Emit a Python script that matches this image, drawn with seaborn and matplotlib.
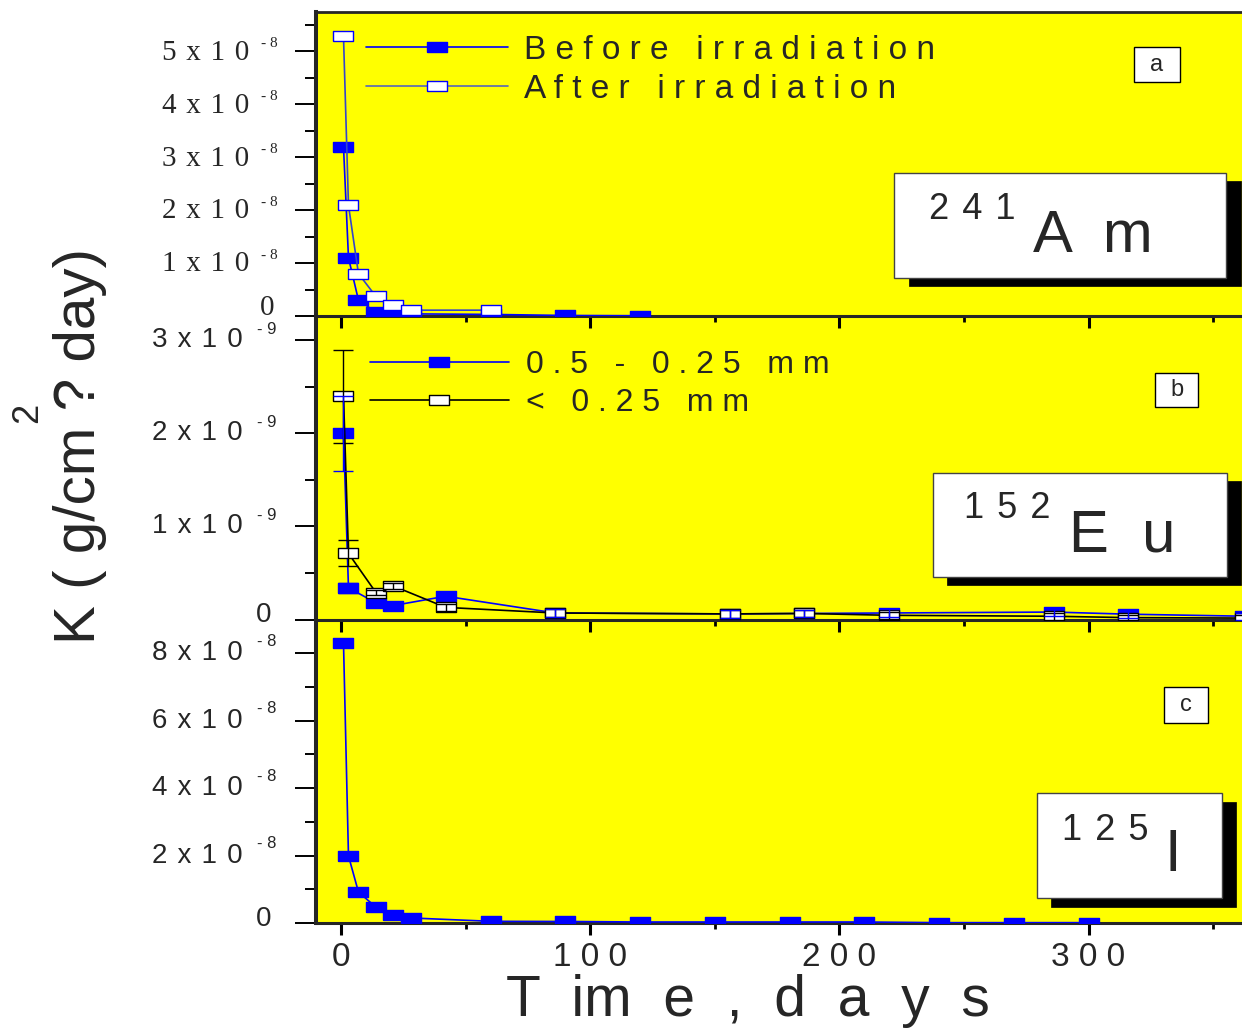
import numpy as np
import matplotlib
matplotlib.use("Agg")
import matplotlib.pyplot as plt
import matplotlib.transforms as mtransforms
from matplotlib.patches import Rectangle
from matplotlib.lines import Line2D
import seaborn as sns

# ---------------- data ----------------
# panel a: 241Am  (K in units of 1e-8)
time_a_before = [1, 3, 7, 14, 21, 28, 60, 90, 120]
k_a_before = [3.20, 1.10, 0.30, 0.075, 0.07, 0.04, 0.03, 0.01, 0.005]
time_a_after = [1, 3, 7, 14, 21, 28, 60]
k_a_after = [5.28, 2.09, 0.80, 0.37, 0.21, 0.11, 0.11]
scale_a = 1e-8

# panel b: 152Eu  (K in units of 1e-9)
time_b = [1, 3, 14, 21, 42, 86, 156, 186, 220, 286, 316, 363]
k_b_coarse = [2.00, 0.34, 0.18, 0.15, 0.25, 0.07, 0.06, 0.065, 0.07, 0.08, 0.057, 0.035]
err_b_coarse = [0.40, 0.05, 0.03, 0.03, 0.03, 0.04, 0.04, 0.04, 0.04, 0.04, 0.04, 0.04]
k_b_fine = [2.40, 0.71, 0.29, 0.36, 0.13, 0.07, 0.06, 0.065, 0.045, 0.035, 0.02, 0.015]
err_b_fine = [0.50, 0.14, 0.03, 0.03, 0.04, 0.04, 0.04, 0.04, 0.04, 0.04, 0.03, 0.03]
scale_b = 1e-9

# panel c: 125I  (K in units of 1e-8)
time_c = [1, 3, 7, 14, 21, 28, 60, 90, 120, 150, 180, 210, 240, 270, 300]
k_c = [8.31, 1.99, 0.92, 0.47, 0.25, 0.15, 0.05, 0.045, 0.03, 0.03, 0.03, 0.03, 0.01, 0.01, 0.01]
scale_c = 1e-8

legend_a = ["B e f o r e   i r r a d i a t i o n", "A f t e r   i r r a d i a t i o n"]
legend_b = ["0 . 5   -   0 . 2 5   m m", "<   0 . 2 5   m m"]
yticks_a = [0, 1e-8, 2e-8, 3e-8, 4e-8, 5e-8]
yticks_b = [0, 1e-9, 2e-9, 3e-9]
yticks_c = [0, 2e-8, 4e-8, 6e-8, 8e-8]
xticks = [0, 100, 200, 300]
xticklabels = ["0", "1 0 0", "2 0 0", "3 0 0"]

# ---------------- style ----------------
sns.set_theme(style="ticks")
plt.rcParams["font.family"] = ["Liberation Sans", "DejaVu Sans"]
plt.rcParams["axes.linewidth"] = 2.2
NARROW = ["Liberation Sans Narrow", "Liberation Sans", "DejaVu Sans"]
SERIF = ["Liberation Serif", "DejaVu Serif"]
YELLOW = "#FFFF00"
BLUE = "#0000FF"
GAP = " \u200a"

W, H = 1242, 1030
fig = plt.figure(figsize=(W / 100, H / 100), dpi=100)
fig.patch.set_facecolor("white")

L, R = 316, 1267
PX_PER_DAY = 2.4917
XMIN = -(341 - L) / PX_PER_DAY
XMAX = XMIN + (R - L) / PX_PER_DAY

layout = {"a": (12, 316), "b": (316, 619.5), "c": (619.5, 923)}
axes = {}
for i, (key, (top, bot)) in enumerate(layout.items()):
    ax = fig.add_axes([L / W, 1 - bot / H, (R - L) / W, (bot - top) / H])
    ax.set_zorder(3 - i)
    ax.set_facecolor(YELLOW)
    axes[key] = ax

RECT = [(-1, -0.55), (1, -0.55), (1, 0.55), (-1, 0.55), (-1, -0.55)]
MS = 14


def px2ax(key, px, py):
    top, bot = layout[key]
    return (px - L) / (R - L), (bot - py) / (bot - top)


def add_box(key, x0, y0, x1, y1, fc="white", ec="black", lw=1.0, z=6):
    ax = axes[key]
    ax0, ay1 = px2ax(key, x0, y0)
    ax1, ay0 = px2ax(key, x1, y1)
    ax.add_patch(Rectangle((ax0, ay0), ax1 - ax0, ay1 - ay0, transform=ax.transAxes,
                           facecolor=fc, edgecolor=ec, lw=lw, zorder=z, clip_on=False))


def add_text(key, px, py, s, **kw):
    ax = axes[key]
    x, y = px2ax(key, px, py)
    ax.text(x, y, s, transform=ax.transAxes, zorder=8, clip_on=False, **kw)


def style_axes(ax, yticks, yminor, ylim, top_spine=False):
    ax.set_xlim(XMIN, XMAX)
    ax.set_ylim(*ylim)
    ax.set_xticks(xticks)
    ax.set_xticks([50, 150, 250, 350], minor=True)
    ax.set_yticks(yticks)
    ax.set_yticks(yminor, minor=True)
    ax.set_yticklabels([])
    ax.set_xlabel("")
    ax.set_ylabel("")
    ax.spines["right"].set_visible(False)
    ax.spines["top"].set_visible(top_spine)
    ax.spines["left"].set_linewidth(2.9)
    ax.spines["bottom"].set_linewidth(2.2)
    ax.tick_params(axis="y", which="major", direction="out", length=15, width=1.4, color="black")
    ax.tick_params(axis="y", which="minor", direction="out", length=8, width=1.4, color="black")
    ax.tick_params(axis="x", which="major", direction="out", length=8.6, width=2.2, color="black")
    ax.tick_params(axis="x", which="minor", direction="out", length=4.6, width=2.0, color="black")


def y_labels(ax, ticks, exp, serif, main_right, exp_left, zero_right, main_fs, exp_fs,
             exp_dy, main_dy, zero_dy):
    trans = mtransforms.blended_transform_factory(ax.transAxes, ax.transData)
    fam = SERIF + ["DejaVu Sans"] if serif else ["Liberation Sans", "DejaVu Sans"]
    for v in ticks:
        if v == 0:
            ax.annotate("0", xy=((zero_right - L) / (R - L), 0), xycoords=trans,
                        xytext=(0, zero_dy), textcoords="offset points",
                        ha="right", va="center", fontsize=main_fs, family=fam,
                        annotation_clip=False)
            continue
        m = int(round(v / 10 ** exp))
        ax.annotate(GAP.join([str(m), "x", "1", "0"]), xy=((main_right - L) / (R - L), v),
                    xycoords=trans, xytext=(0, main_dy), textcoords="offset points",
                    ha="right", va="center", fontsize=main_fs, family=fam,
                    annotation_clip=False)
        ax.annotate(f"- {abs(exp)}", xy=((exp_left - L) / (R - L), v), xycoords=trans,
                    xytext=(0, exp_dy), textcoords="offset points",
                    ha="left", va="center", fontsize=exp_fs, family=fam,
                    annotation_clip=False)


# ---------------- panel a ----------------
ax = axes["a"]
sns.lineplot(x=time_a_before, y=np.array(k_a_before) * scale_a, ax=ax, color=BLUE, lw=1.2,
             marker=RECT, markersize=MS, mfc=BLUE, mec=BLUE, mew=1.0, errorbar=None,
             sort=False, legend=False, zorder=3)
sns.lineplot(x=time_a_after, y=np.array(k_a_after) * scale_a, ax=ax, color="#3344cc", lw=1.2,
             marker=RECT, markersize=MS, mfc="white", mec=BLUE, mew=1.0, errorbar=None,
             sort=False, legend=False, zorder=4)
style_axes(ax, yticks_a, [0.5e-8, 1.5e-8, 2.5e-8, 3.5e-8, 4.5e-8, 5.5e-8], (0, 5.74e-8), top_spine=True)
ax.spines["top"].set_linewidth(2.0)
ax.set_xticklabels([])
y_labels(ax, yticks_a, -8, True, 249, 261, 274, 21, 11, 5.5, -1.0, 5.5)
h_a = [Line2D([], [], color=BLUE, lw=1.2, marker=RECT, ms=MS, mfc=BLUE, mec=BLUE),
       Line2D([], [], color="#5566bb", lw=1.2, marker=RECT, ms=MS, mfc="white", mec=BLUE)]
ax.legend(h_a, legend_a, loc="upper left", bbox_to_anchor=(px2ax("a", 366, 35)),
          frameon=False, fontsize=24, handlelength=4.25, handletextpad=0.48,
          labelspacing=0.23, borderpad=0, borderaxespad=0, numpoints=1)
add_box("a", 909, 181, 1241, 286, fc="black", ec="black", lw=0.5, z=5)
add_box("a", 894, 173, 1226, 278, fc="white", ec="#444444", lw=1.0, z=6)
add_text("a", 929, 219, "2" + GAP + "4" + GAP + "1", fontsize=26, ha="left", va="baseline")
add_text("a", 1033, 252, "A  m", fontsize=43, ha="left", va="baseline")
add_box("a", 1134, 47, 1180, 82, fc="white", ec="black", lw=1.0, z=6)
add_text("a", 1157, 65, "a", fontsize=17, ha="center", va="center")

# ---------------- panel b ----------------
ax = axes["b"]
sns.lineplot(x=time_b, y=np.array(k_b_coarse) * scale_b, ax=ax, color=BLUE, lw=1.2,
             marker=RECT, markersize=MS, mfc=BLUE, mec=BLUE, mew=1.0, errorbar=None,
             sort=False, legend=False, zorder=3)
sns.lineplot(x=time_b, y=np.array(k_b_fine) * scale_b, ax=ax, color="black", lw=1.2,
             marker=RECT, markersize=MS, mfc="white", mec="black", mew=1.0, errorbar=None,
             sort=False, legend=False, zorder=4)
ax.errorbar(time_b, np.array(k_b_fine) * scale_b, yerr=np.array(err_b_fine) * scale_b,
            fmt="none", ecolor="black", elinewidth=1.0, capsize=7, capthick=1.0, zorder=5)
ax.errorbar(time_b, np.array(k_b_coarse) * scale_b, yerr=np.array(err_b_coarse) * scale_b,
            fmt="none", ecolor=BLUE, elinewidth=1.0, capsize=7, capthick=1.0, zorder=5)
style_axes(ax, yticks_b, [0.5e-9, 1.5e-9, 2.5e-9], (0, 3.26e-9))
ax.set_xticklabels([])
y_labels(ax, yticks_b, -9, False, 243, 257, 271, 20, 12, 7.5, 0.0, 3.0)
h_b = [Line2D([], [], color=BLUE, lw=1.2, marker=RECT, ms=MS, mfc=BLUE, mec=BLUE),
       Line2D([], [], color="black", lw=1.2, marker=RECT, ms=MS, mfc="white", mec="black")]
ax.legend(h_b, legend_b, loc="upper left", bbox_to_anchor=(px2ax("b", 370, 350)),
          frameon=False, fontsize=23, handlelength=4.35, handletextpad=0.52,
          labelspacing=0.26, borderpad=0, borderaxespad=0, numpoints=1)
add_box("b", 947, 481, 1241, 585, fc="black", ec="black", lw=0.5, z=5)
add_box("b", 933, 473, 1227, 577, fc="white", ec="#444444", lw=1.0, z=6)
add_text("b", 964, 518, "1" + GAP + "5" + GAP + "2", fontsize=26, ha="left", va="baseline")
add_text("b", 1069, 551, "E  u", fontsize=43, ha="left", va="baseline")
add_box("b", 1155, 373, 1198, 407, fc="white", ec="black", lw=1.0, z=6)
add_text("b", 1176.5, 390, "b", fontsize=17, ha="center", va="center")

# ---------------- panel c ----------------
ax = axes["c"]
sns.lineplot(x=time_c, y=np.array(k_c) * scale_c, ax=ax, color=BLUE, lw=1.2,
             marker=RECT, markersize=MS, mfc=BLUE, mec=BLUE, mew=1.0, errorbar=None,
             sort=False, legend=False, zorder=3)
style_axes(ax, yticks_c, [1e-8, 3e-8, 5e-8, 7e-8], (0, 9.0e-8))
ax.set_xticks(xticks, xticklabels)
for t in ax.get_xticklabels():
    t.set_family(NARROW)
    t.set_fontsize(24)
ax.tick_params(axis="x", which="major", pad=5)
y_labels(ax, yticks_c, -8, False, 243, 257, 271, 20, 12, 8.5, 0.0, 3.0)
add_box("c", 1051, 802, 1236, 907, fc="black", ec="black", lw=0.5, z=5)
add_box("c", 1037, 793, 1222, 898, fc="white", ec="#444444", lw=1.0, z=6)
add_text("c", 1062, 840, "1" + GAP + "2" + GAP + "5", fontsize=26, ha="left", va="baseline")
add_text("c", 1165, 871, "I", fontsize=43, ha="left", va="baseline")
add_box("c", 1164, 687, 1208, 723, fc="white", ec="black", lw=1.0, z=6)
add_text("c", 1186, 705, "c", fontsize=17, ha="center", va="center")

# ---------------- axis titles ----------------
fig.text(80 / W, 1 - 446 / H, "K ( g/cm ? day)", rotation=90, fontsize=42,
         ha="center", va="center")
fig.text(28 / W, 1 - 413 / H, "2", rotation=90, fontsize=26, ha="center", va="center")
fig.text(748 / W, 1 - 1001 / H, "T  im  e  ,  d  a  y  s", fontsize=41, family=NARROW,
         ha="center", va="center")

fig.savefig("out.png", dpi=100, facecolor="white")
